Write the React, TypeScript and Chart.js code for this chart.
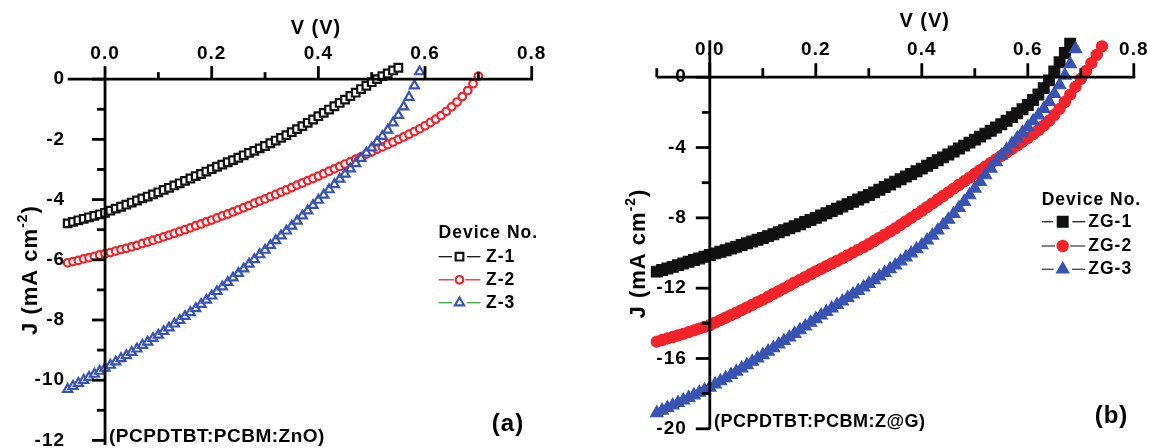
import React, { useEffect, useRef } from 'react';
import { Chart, registerables } from 'chart.js';

Chart.register(...registerables);

// ---------------- data: panel (a) ----------------
const voltageA = [
  -0.07, -0.06, -0.05, -0.04, -0.03, -0.02, -0.01,
  0.0, 0.01, 0.02, 0.03, 0.04, 0.05, 0.06, 0.07, 0.08, 0.09,
  0.1, 0.11, 0.12, 0.13, 0.14, 0.15, 0.16, 0.17, 0.18, 0.19,
  0.2, 0.21, 0.22, 0.23, 0.24, 0.25, 0.26, 0.27, 0.28, 0.29,
  0.3, 0.31, 0.32, 0.33, 0.34, 0.35, 0.36, 0.37, 0.38, 0.39,
  0.4, 0.41, 0.42, 0.43, 0.44, 0.45, 0.46, 0.47, 0.48, 0.49,
  0.5, 0.51, 0.52, 0.53, 0.54, 0.55, 0.56, 0.57, 0.58, 0.59,
  0.6, 0.61, 0.62, 0.63, 0.64, 0.65, 0.66, 0.67, 0.68, 0.69,
  0.7,
];
const currentZ1 = [
  -4.79, -4.74, -4.69, -4.64, -4.59, -4.54, -4.49,
  -4.44, -4.37, -4.3, -4.24, -4.17, -4.1, -4.03, -3.96, -3.9, -3.83,
  -3.76, -3.68, -3.61, -3.53, -3.46, -3.38, -3.3, -3.22, -3.15, -3.07,
  -2.99, -2.91, -2.84, -2.76, -2.69, -2.61, -2.53, -2.45, -2.38, -2.3,
  -2.22, -2.13, -2.04, -1.95, -1.86, -1.76, -1.66, -1.56, -1.45, -1.34,
  -1.23, -1.12, -1.01, -0.9, -0.79, -0.68, -0.56, -0.45, -0.33, -0.22,
  -0.1, 0.0, 0.1, 0.19, 0.29, 0.38,
];
const currentZ2 = [
  -6.1, -6.06, -6.02, -5.97, -5.93, -5.89, -5.84,
  -5.8, -5.76, -5.71, -5.66, -5.62, -5.57, -5.52, -5.46, -5.41, -5.35,
  -5.3, -5.24, -5.18, -5.12, -5.06, -5.0, -4.94, -4.87, -4.81, -4.74,
  -4.68, -4.61, -4.54, -4.48, -4.41, -4.34, -4.27, -4.2, -4.12, -4.05,
  -3.98, -3.9, -3.83, -3.75, -3.68, -3.6, -3.52, -3.45, -3.37, -3.3,
  -3.22, -3.14, -3.06, -2.98, -2.9, -2.82, -2.74, -2.66, -2.58, -2.49,
  -2.41, -2.33, -2.25, -2.17, -2.09, -2.0, -1.92, -1.83, -1.74, -1.65,
  -1.55, -1.44, -1.33, -1.21, -1.07, -0.92, -0.76, -0.58, -0.38, -0.15,
  0.1,
];
const currentZ3 = [
  -10.3, -10.2, -10.1, -10.0, -9.9, -9.8, -9.7,
  -9.6, -9.5, -9.39, -9.28, -9.18, -9.07, -8.96, -8.84, -8.73, -8.61,
  -8.5, -8.38, -8.26, -8.13, -8.01, -7.88, -7.75, -7.62, -7.48, -7.34,
  -7.2, -7.05, -6.9, -6.75, -6.6, -6.45, -6.3, -6.14, -5.99, -5.83,
  -5.68, -5.52, -5.36, -5.2, -5.04, -4.88, -4.71, -4.54, -4.37, -4.19,
  -4.02, -3.85, -3.67, -3.5, -3.32, -3.15, -2.98, -2.8, -2.63, -2.45,
  -2.28, -2.09, -1.9, -1.69, -1.45, -1.2, -0.92, -0.6, -0.22, 0.25,
];
const seriesNamesA = ['Z-1', 'Z-2', 'Z-3'];

// ---------------- data: panel (b) ----------------
const voltageB = [
  -0.1, -0.09, -0.08, -0.07, -0.06, -0.05, -0.04, -0.03, -0.02, -0.01,
  0.0, 0.01, 0.02, 0.03, 0.04, 0.05, 0.06, 0.07, 0.08, 0.09,
  0.1, 0.11, 0.12, 0.13, 0.14, 0.15, 0.16, 0.17, 0.18, 0.19,
  0.2, 0.21, 0.22, 0.23, 0.24, 0.25, 0.26, 0.27, 0.28, 0.29,
  0.3, 0.31, 0.32, 0.33, 0.34, 0.35, 0.36, 0.37, 0.38, 0.39,
  0.4, 0.41, 0.42, 0.43, 0.44, 0.45, 0.46, 0.47, 0.48, 0.49,
  0.5, 0.51, 0.52, 0.53, 0.54, 0.55, 0.56, 0.57, 0.58, 0.59,
  0.6, 0.61, 0.62, 0.63, 0.64, 0.65, 0.66, 0.67, 0.68, 0.69,
  0.7, 0.71, 0.72, 0.73, 0.74,
];
const currentZG1 = [
  -11.06, -10.97, -10.88, -10.79, -10.69, -10.6, -10.5, -10.4, -10.31, -10.21,
  -10.11, -10.02, -9.93, -9.84, -9.74, -9.65, -9.55, -9.45, -9.35, -9.25,
  -9.15, -9.04, -8.93, -8.82, -8.71, -8.6, -8.48, -8.36, -8.24, -8.12,
  -8.0, -7.87, -7.74, -7.61, -7.48, -7.35, -7.22, -7.09, -6.96, -6.83,
  -6.7, -6.55, -6.4, -6.25, -6.1, -5.95, -5.8, -5.65, -5.5, -5.35,
  -5.2, -5.04, -4.88, -4.72, -4.56, -4.4, -4.23, -4.06, -3.89, -3.72,
  -3.55, -3.38, -3.21, -3.04, -2.86, -2.68, -2.48, -2.27, -2.05, -1.82,
  -1.58, -1.3, -0.98, -0.62, -0.18, 0.32, 0.85, 1.38, 1.9,
];
const currentZG2 = [
  -15.04, -14.95, -14.86, -14.78, -14.69, -14.6, -14.5, -14.4, -14.3, -14.2,
  -14.1, -13.96, -13.82, -13.68, -13.54, -13.4, -13.25, -13.1, -12.95, -12.8,
  -12.65, -12.49, -12.33, -12.17, -12.01, -11.85, -11.69, -11.53, -11.37, -11.21,
  -11.05, -10.9, -10.75, -10.6, -10.45, -10.3, -10.14, -9.98, -9.82, -9.66,
  -9.5, -9.32, -9.14, -8.96, -8.78, -8.6, -8.4, -8.2, -8.0, -7.8,
  -7.6, -7.39, -7.18, -6.97, -6.76, -6.55, -6.34, -6.13, -5.92, -5.71,
  -5.5, -5.29, -5.08, -4.88, -4.68, -4.48, -4.28, -4.08, -3.88, -3.67,
  -3.46, -3.24, -3.01, -2.76, -2.48, -2.15, -1.8, -1.41, -0.99, -0.55,
  -0.1, 0.35, 0.8, 1.27, 1.75,
];
const currentZG3 = [
  -19.1, -18.96, -18.81, -18.67, -18.52, -18.38, -18.23, -18.09, -17.94, -17.8,
  -17.65, -17.47, -17.29, -17.11, -16.93, -16.75, -16.56, -16.37, -16.18, -15.99,
  -15.8, -15.6, -15.4, -15.2, -15.0, -14.8, -14.59, -14.38, -14.17, -13.96,
  -13.75, -13.55, -13.35, -13.15, -12.95, -12.75, -12.55, -12.35, -12.15, -11.95,
  -11.75, -11.54, -11.33, -11.12, -10.91, -10.7, -10.47, -10.24, -10.01, -9.78,
  -9.55, -9.28, -9.0, -8.71, -8.41, -8.1, -7.77, -7.43, -7.08, -6.71,
  -6.33, -5.95, -5.57, -5.19, -4.82, -4.46, -4.12, -3.79, -3.47, -3.15,
  -2.83, -2.5, -2.16, -1.8, -1.4, -0.95, -0.45, 0.1, 0.75, 1.6,
];
const seriesNamesB = ['ZG-1', 'ZG-2', 'ZG-3'];

// ---------------- ticks & texts ----------------
const xMajorTicks = [0, 0.2, 0.4, 0.6, 0.8];
const xTickLabels = ['0.0', '0.2', '0.4', '0.6', '0.8'];
const xMinorTicksA = [0.1, 0.3, 0.5, 0.7];
const xMinorTicksB = [-0.1, 0.1, 0.3, 0.5, 0.7];
const yMajorTicksA = [0, -2, -4, -6, -8, -10, -12];
const yTickLabelsA = ['0', '-2', '-4', '-6', '-8', '-10', '-12'];
const yMinorTicksA = [-1, -3, -5, -7, -9, -11];
const yMajorTicksB = [0, -4, -8, -12, -16, -20];
const yTickLabelsB = ['0', '-4', '-8', '-12', '-16', '-20'];
const yMinorTicksB = [-2, -6, -10, -14, -18];

const xTitle = 'V (V)';
const yTitleMain = 'J (mA cm';
const yTitleSup = '-2';
const yTitleEnd = ')';
const legendTitle = 'Device No.';
const noteA = '(PCPDTBT:PCBM:ZnO)';
const noteB = '(PCPDTBT:PCBM:Z@G)';
const panelLabelA = '(a)';
const panelLabelB = '(b)';

// ---------------- styles ----------------
const FONT_FAMILY = '"Liberation Sans", Arial, Helvetica, sans-serif';
const BLACK = '#111111';
const RED = '#f2232a';
const BLUE = '#3953b3';
const GREEN = '#35a83a';

const toPoints = (v: number[], j: number[]) => j.map((y, i) => ({ x: v[i], y }));

function setFont(ctx: CanvasRenderingContext2D, px: number, spacing = 1) {
  ctx.font = `bold ${px}px ${FONT_FAMILY}`;
  (ctx as any).letterSpacing = `${spacing}px`;
}

function text(ctx: CanvasRenderingContext2D, s: string, x: number, y: number, px: number,
  align: CanvasTextAlign = 'center', spacing = 1) {
  setFont(ctx, px, spacing);
  ctx.textAlign = align;
  ctx.textBaseline = 'middle';
  ctx.fillStyle = '#000';
  ctx.fillText(s, x, y);
}

function marker(ctx: CanvasRenderingContext2D, style: string, x: number, y: number, r: number,
  fill: string, stroke: string, lw: number) {
  ctx.beginPath();
  if (style === 'rect') {
    const s = r * Math.SQRT1_2;
    ctx.rect(x - s, y - s, 2 * s, 2 * s);
  } else if (style === 'circle') {
    ctx.arc(x, y, r, 0, Math.PI * 2);
  } else {
    const a = (2 * Math.PI) / 3;
    ctx.moveTo(x, y - r);
    ctx.lineTo(x + r * Math.sin(a), y - r * Math.cos(a));
    ctx.lineTo(x + r * Math.sin(2 * a), y - r * Math.cos(2 * a));
    ctx.closePath();
  }
  ctx.fillStyle = fill;
  ctx.fill();
  ctx.lineWidth = lw;
  ctx.strokeStyle = stroke;
  ctx.stroke();
}

type PanelCfg = {
  xMinor: number[];
  yMajor: number[];
  yLabels: string[];
  yMinor: number[];
  yAxisTop: number;
  yAxisBottom: number;
  majorLen: number;
  minorLenX: number;
  minorLenY: number;
  xLabelOffset: number;
  yLabelOffset: number;
  xTitlePos: [number, number];
  yTitlePos: [number, number];
  note: string;
  notePos: [number, number];
  noteSize: number;
  panel: string;
  panelPos: [number, number];
  legend: { x0: number; x1: number; mx: number; tx: number; titleY: number; rows: number[]; lineColors: string[] };
  names: string[];
};

function axesPlugin(cfg: PanelCfg) {
  return {
    id: 'originAxes',
    afterDatasetsDraw(chart: any) {
      const ctx: CanvasRenderingContext2D = chart.ctx;
      const xs = chart.scales.x;
      const ys = chart.scales.y;
      const X = (v: number) => xs.getPixelForValue(v);
      const Y = (v: number) => ys.getPixelForValue(v);
      const area = chart.chartArea;
      const ax = X(0);
      const ay = Y(0);
      ctx.save();
      ctx.strokeStyle = '#000';
      ctx.lineWidth = 2.8;
      ctx.lineCap = 'butt';
      const seg = (x1: number, y1: number, x2: number, y2: number) => {
        ctx.beginPath();
        ctx.moveTo(x1, y1);
        ctx.lineTo(x2, y2);
        ctx.stroke();
      };
      // axis lines
      seg(area.left, ay, area.right + 1.4, ay);
      seg(ax, Y(cfg.yAxisTop), ax, Y(cfg.yAxisBottom));
      // x ticks (pointing up)
      xMajorTicks.forEach((v) => seg(X(v), ay, X(v), ay - cfg.majorLen));
      cfg.xMinor.forEach((v) => seg(X(v), ay, X(v), ay - cfg.minorLenX));
      // y ticks (pointing left)
      cfg.yMajor.forEach((v) => seg(ax, Y(v), ax - cfg.majorLen, Y(v)));
      cfg.yMinor.forEach((v) => seg(ax, Y(v), ax - cfg.minorLenY, Y(v)));
      // tick labels
      xMajorTicks.forEach((v, i) => text(ctx, xTickLabels[i], X(v), ay - cfg.xLabelOffset, 19));
      cfg.yMajor.forEach((v, i) => text(ctx, cfg.yLabels[i], ax - cfg.yLabelOffset, Y(v), 19, 'right'));
      // axis titles
      text(ctx, xTitle, cfg.xTitlePos[0], cfg.xTitlePos[1], 20);
      ctx.save();
      ctx.translate(cfg.yTitlePos[0], cfg.yTitlePos[1]);
      ctx.rotate(-Math.PI / 2);
      setFont(ctx, 22);
      const w1 = ctx.measureText(yTitleMain).width;
      setFont(ctx, 14);
      const w2 = ctx.measureText(yTitleSup).width;
      setFont(ctx, 22);
      const w3 = ctx.measureText(yTitleEnd).width;
      const x0 = -(w1 + w2 + w3) / 2;
      text(ctx, yTitleMain, x0, 0, 22, 'left');
      text(ctx, yTitleSup, x0 + w1, -8, 14, 'left');
      text(ctx, yTitleEnd, x0 + w1 + w2, 0, 22, 'left');
      ctx.restore();
      // note + panel label
      text(ctx, cfg.note, cfg.notePos[0], cfg.notePos[1], cfg.noteSize, 'left', 0.5);
      text(ctx, cfg.panel, cfg.panelPos[0], cfg.panelPos[1], 24);
      // legend
      const L = cfg.legend;
      text(ctx, legendTitle, L.x0, L.titleY, 17.5, 'left');
      chart.data.datasets.forEach((ds: any, i: number) => {
        const yy = L.rows[i];
        ctx.strokeStyle = L.lineColors[i];
        ctx.lineWidth = 1.3;
        const gap = ds.pointRadius + 2;
        seg(L.x0, yy, L.mx - gap, yy);
        seg(L.mx + gap, yy, L.x1, yy);
        marker(ctx, ds.pointStyle, L.mx, yy, ds.pointRadius, ds.pointBackgroundColor, ds.pointBorderColor, ds.pointBorderWidth);
        text(ctx, cfg.names[i], L.tx, yy, 17.5, 'left');
      });
      ctx.restore();
    },
  };
}

function makeConfig(datasets: any[], pad: any, xr: [number, number], yr: [number, number], cfg: PanelCfg): any {
  return {
    type: 'scatter',
    data: { datasets },
    options: {
      responsive: false,
      devicePixelRatio: 1,
      animation: false,
      events: [],
      layout: { padding: pad },
      plugins: { legend: { display: false }, tooltip: { enabled: false } },
      scales: {
        x: { type: 'linear', min: xr[0], max: xr[1], display: false },
        y: { type: 'linear', min: yr[0], max: yr[1], display: false },
      },
    },
    plugins: [axesPlugin(cfg)],
  };
}

const ds = (label: string, v: number[], j: number[], style: string, r: number, color: string,
  fill: string, bw: number, order: number) => ({
  label,
  data: toPoints(v, j),
  pointStyle: style,
  pointRadius: r,
  pointHoverRadius: r,
  pointBorderWidth: bw,
  pointBorderColor: color,
  pointBackgroundColor: fill,
  borderColor: color,
  backgroundColor: fill,
  showLine: false,
  clip: false,
  order,
});

const datasetsA = [
  ds(seriesNamesA[0], voltageA, currentZ1, 'rect', 5.4, BLACK, '#ffffff', 2.2, 3),
  ds(seriesNamesA[1], voltageA, currentZ2, 'circle', 3.8, RED, '#ffffff', 2.2, 2),
  ds(seriesNamesA[2], voltageA, currentZ3, 'triangle', 5.2, BLUE, '#ffffff', 2.2, 1),
];
const datasetsB = [
  ds(seriesNamesB[0], voltageB, currentZG1, 'rect', 7.6, BLACK, BLACK, 1.2, 3),
  ds(seriesNamesB[1], voltageB, currentZG2, 'circle', 5.6, RED, RED, 1.2, 2),
  ds(seriesNamesB[2], voltageB, currentZG3, 'triangle', 7.2, BLUE, BLUE, 1.2, 1),
];

const cfgA: PanelCfg = {
  xMinor: xMinorTicksA,
  yMajor: yMajorTicksA,
  yLabels: yTickLabelsA,
  yMinor: yMinorTicksA,
  yAxisTop: 0,
  yAxisBottom: -12.15,
  majorLen: 13,
  minorLenX: 7,
  minorLenY: 8,
  xLabelOffset: 25,
  yLabelOffset: 40,
  xTitlePos: [316, 28],
  yTitlePos: [31, 270],
  note: noteA,
  notePos: [109, 437],
  noteSize: 19,
  panel: panelLabelA,
  panelPos: [508, 424],
  legend: { x0: 438.6, x1: 480.4, mx: 459.5, tx: 486, titleY: 233.5, rows: [256.7, 279.8, 302.7], lineColors: [BLACK, RED, GREEN] },
  names: seriesNamesA,
};

const cfgB: PanelCfg = {
  xMinor: xMinorTicksB,
  yMajor: yMajorTicksB,
  yLabels: yTickLabelsB,
  yMinor: yMinorTicksB,
  yAxisTop: 2.1,
  yAxisBottom: -20,
  majorLen: 14,
  minorLenX: 9,
  minorLenY: 8,
  xLabelOffset: 27,
  yLabelOffset: 23,
  xTitlePos: [349.7, 21.7],
  yTitlePos: [64, 253.5],
  note: noteB,
  notePos: [139, 422],
  noteSize: 18,
  panel: panelLabelB,
  panelPos: [536.5, 416.5],
  legend: { x0: 466.7, x1: 510, mx: 487.7, tx: 513.3, titleY: 200, rows: [221.7, 246, 269.3], lineColors: ['#222222', '#444444', '#444444'] },
  names: seriesNamesB,
};

export default function App() {
  const refA = useRef<HTMLCanvasElement>(null);
  const refB = useRef<HTMLCanvasElement>(null);
  useEffect(() => {
    const a = new Chart(refA.current as HTMLCanvasElement,
      makeConfig(datasetsA, { left: 67.7, right: 38.3, top: 64.1, bottom: 4.6 }, [-0.07, 0.8], [-12, 0.5], cfgA));
    const b = new Chart(refB.current as HTMLCanvasElement,
      makeConfig(datasetsB, { left: 81.8, right: 15.2, top: 40.3, bottom: 19.2 }, [-0.1, 0.8], [-20, 2.1], cfgB));
    return () => {
      a.destroy();
      b.destroy();
    };
  }, []);
  return (
    <div style={{ position: 'fixed', left: 0, top: 0, width: 1149, height: 448, background: '#ffffff' }}>
      <canvas ref={refA} width={570} height={448} style={{ position: 'absolute', left: 0, top: 0 }} />
      <canvas ref={refB} width={574} height={448} style={{ position: 'absolute', left: 575, top: 0 }} />
    </div>
  );
}
